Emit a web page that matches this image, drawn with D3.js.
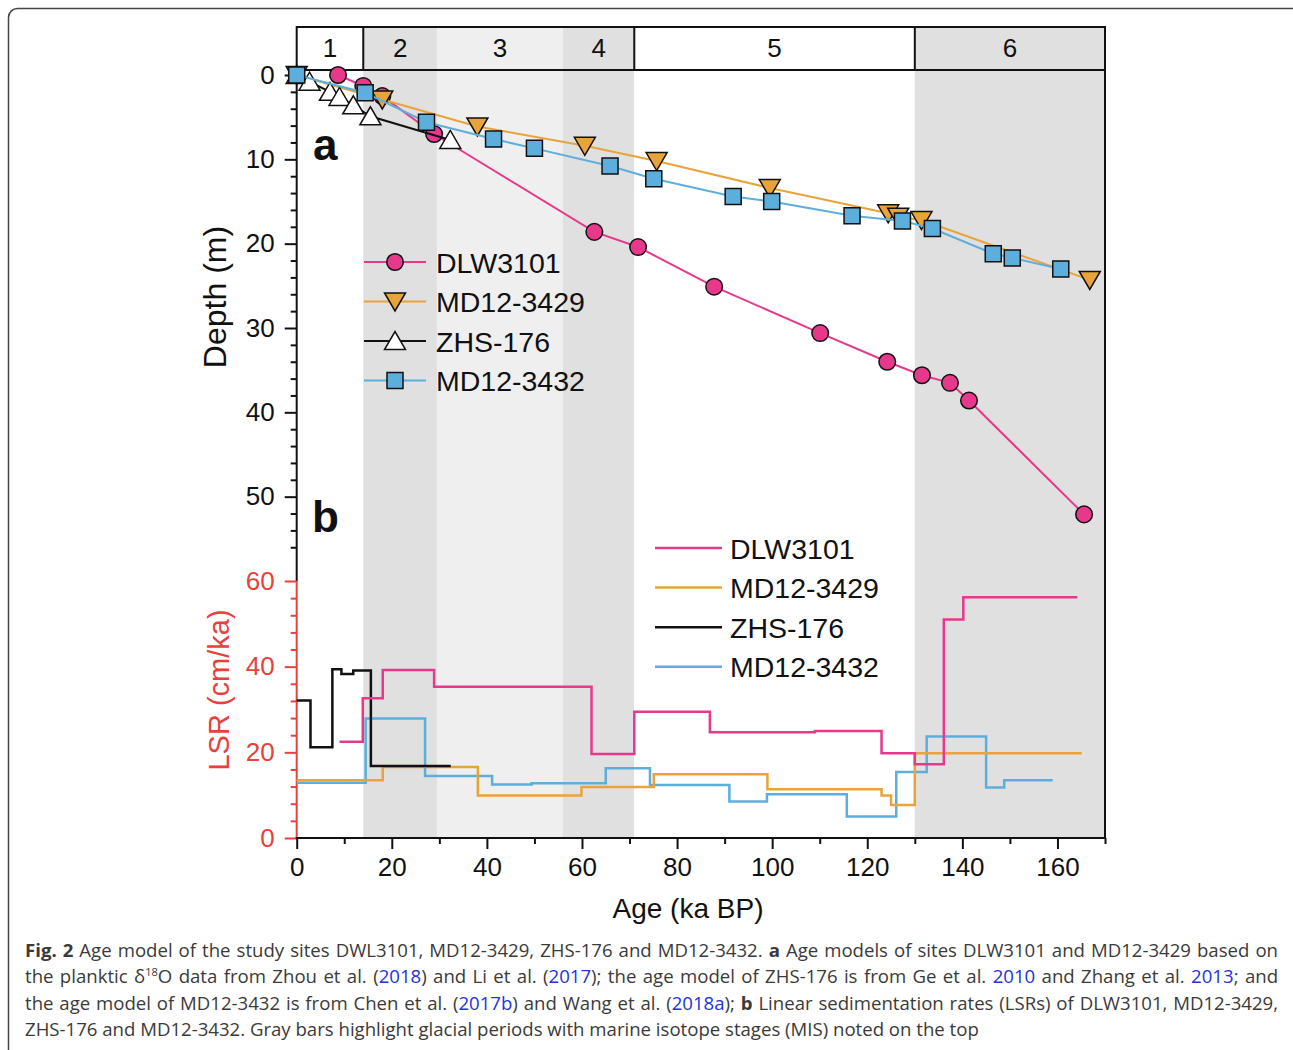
<!DOCTYPE html>
<html>
<head>
<meta charset="utf-8">
<script src="https://cdn.jsdelivr.net/npm/d3@7"></script>
<style>
  body { margin: 0; background: #fff; }
  #chart { position: absolute; left: 0; top: 0; }
  .cap { position: absolute; left: 25px; width: 1253px; font-family: 'Open Sans', sans-serif; font-size: 18.6px;
         line-height: 26px; color: #3a3a3a; white-space: nowrap; }
  .cap.j { text-align: justify; text-align-last: justify; white-space: normal; }
  .cap a { color: #2233dd; text-decoration: none; }
</style>
</head>
<body>
<svg id="chart" width="1293" height="1050"></svg>
<script>
// MIS stages (ka) shown on top
const misBounds = [0, 14, 29.5, 56, 71, 130, 170];
const misLabels = ['1', '2', '3', '4', '5', '6'];

// panel a: age models (age ka, depth m)
const dlwAge = [8.7, 14.0, 18.0, 28.9, 62.6, 71.8, 87.8, 110.1, 124.2, 131.5, 137.4, 141.4, 165.6];
const dlwDepth = [0.0, 1.3, 2.5, 7.0, 18.6, 20.4, 25.1, 30.6, 34.0, 35.6, 36.5, 38.6, 52.1];
const md29Age = [0, 18.0, 38.0, 60.6, 75.7, 99.5, 124.4, 126.5, 131.4, 166.8];
const md29Depth = [0, 2.9, 6.1, 8.4, 10.2, 13.4, 16.4, 16.8, 17.2, 24.3];
const zhsAge = [0, 2.7, 7.0, 9.0, 11.9, 15.5, 32.3];
const zhsDepth = [0, 0.8, 2.0, 2.6, 3.6, 4.9, 7.7];
const md32Age = [0, 14.4, 27.3, 41.4, 50.0, 65.9, 75.1, 91.8, 99.9, 116.8, 127.4, 133.7, 146.5, 150.5, 160.7];
const md32Depth = [0, 2.1, 5.6, 7.6, 8.7, 10.8, 12.3, 14.4, 15.0, 16.7, 17.3, 18.2, 21.2, 21.7, 23.0];

// panel b: linear sedimentation rates (step boundaries ka, LSR cm/ka)
const dlwStepAge = [9.0, 13.9, 18.1, 28.9, 62.0, 71.0, 86.9, 109.0, 123.0, 130.0, 136.1, 140.2, 164.2];
const dlwLsr = [22.5, 32.6, 39.2, 35.3, 19.6, 29.5, 24.7, 25.0, 19.8, 17.2, 51.0, 56.2];
const md29StepAge = [0, 18.1, 38.1, 59.9, 75.1, 99.0, 123.0, 125.0, 130.0, 165.1];
const md29Lsr = [13.5, 16.6, 9.9, 11.9, 14.9, 11.4, 9.9, 7.7, 19.8];
const zhsStepAge = [0, 2.9, 7.5, 9.4, 11.9, 15.6, 32.4];
const zhsLsr = [32.1, 21.2, 39.4, 38.3, 39.1, 16.8];
const md32StepAge = [0, 14.5, 27.0, 41.1, 49.4, 65.0, 74.3, 91.0, 98.9, 115.7, 126.1, 132.5, 145.0, 148.8, 159.0];
const md32Lsr = [12.9, 27.9, 14.5, 12.5, 12.8, 16.3, 12.4, 8.5, 10.2, 5.0, 15.4, 23.7, 11.8, 13.5];

const siteNames = ['DLW3101', 'MD12-3429', 'ZHS-176', 'MD12-3432'];

const pink = '#e8388c', orange = '#e9a33b', blue = '#5cafdc', red = '#e8413c';
const font = "'Liberation Sans', Arial, sans-serif";

const svg = d3.select('#chart');

// outer frame
svg.append('rect').attr('x', 8.5).attr('y', 8.5).attr('width', 1300).attr('height', 1100)
  .attr('rx', 9).attr('fill', 'none').attr('stroke', '#444').attr('stroke-width', 1.5);

const x = d3.scaleLinear().domain([0, 170]).range([296.7, 1105]);
const yDepth = d3.scaleLinear().domain([0, 60]).range([75, 581]);
const yLsr = d3.scaleLinear().domain([0, 60]).range([838, 581]);
const plotTop = 70, plotBottom = 838, headTop = 27;

//shading of glacial (dark) and MIS 3 (light)
const shade = { '2': '#e0e0e0', '3': '#efefef', '4': '#e0e0e0', '6': '#e0e0e0' };

misLabels.forEach((lab, i) => {
  const fill = shade[lab] || '#fff';
  svg.append('rect').attr('x', x(misBounds[i])).attr('y', headTop)
    .attr('width', x(misBounds[i + 1]) - x(misBounds[i])).attr('height', plotBottom - headTop)
    .attr('fill', fill);
  svg.append('text').attr('x', (x(misBounds[i]) + x(misBounds[i + 1])) / 2).attr('y', 57)
    .attr('text-anchor', 'middle').style('font-family', font).style('font-size', '26px')
    .attr('fill', '#111').text(lab);
});

// header box + dividers
svg.append('rect').attr('x', x(0)).attr('y', headTop).attr('width', x(170) - x(0)).attr('height', plotTop - headTop)
  .attr('fill', 'none').attr('stroke', '#111').attr('stroke-width', 2);
[14, 71, 130].forEach((b) => {
  svg.append('line').attr('x1', x(b)).attr('x2', x(b)).attr('y1', headTop).attr('y2', plotTop)
    .attr('stroke', '#111').attr('stroke-width', 2);
});
// right frame line
svg.append('line').attr('x1', x(170)).attr('x2', x(170)).attr('y1', plotTop).attr('y2', plotBottom)
  .attr('stroke', '#111').attr('stroke-width', 2);

// ---------- axes ----------
function styleAxis(g, color) {
  g.select('.domain').remove();
  g.selectAll('line').attr('stroke', color).attr('stroke-width', 2);
  g.selectAll('text').attr('fill', color).style('font-family', font).style('font-size', '26px');
}

// depth axis
svg.append('g').attr('transform', `translate(${x(0)},0)`)
  .call(d3.axisLeft(yDepth).tickValues(d3.range(0, 57, 2).filter((d) => d % 10 !== 0)).tickSize(6).tickFormat(''))
  .call((g) => styleAxis(g, '#111'));
svg.append('g').attr('transform', `translate(${x(0)},0)`)
  .call(d3.axisLeft(yDepth).tickValues([0, 10, 20, 30, 40, 50]).tickSize(12).tickPadding(10))
  .call((g) => styleAxis(g, '#111'));
svg.append('line').attr('x1', x(0)).attr('x2', x(0)).attr('y1', plotTop).attr('y2', yLsr(60))
  .attr('stroke', '#111').attr('stroke-width', 2);

// LSR axis
svg.append('g').attr('transform', `translate(${x(0)},0)`)
  .call(d3.axisLeft(yLsr).tickValues(d3.range(0, 61, 4).filter((d) => d % 20 !== 0)).tickSize(6).tickFormat(''))
  .call((g) => styleAxis(g, red));
svg.append('g').attr('transform', `translate(${x(0)},0)`)
  .call(d3.axisLeft(yLsr).tickValues([0, 20, 40, 60]).tickSize(12).tickPadding(10))
  .call((g) => styleAxis(g, red));
svg.append('line').attr('x1', x(0)).attr('x2', x(0)).attr('y1', yLsr(60)).attr('y2', plotBottom)
  .attr('stroke', red).attr('stroke-width', 2);

// age axis
svg.append('g').attr('transform', `translate(0,${plotBottom})`)
  .call(d3.axisBottom(x).tickValues(d3.range(10, 171, 20)).tickSize(6).tickFormat(''))
  .call((g) => styleAxis(g, '#111'));
svg.append('g').attr('transform', `translate(0,${plotBottom})`)
  .call(d3.axisBottom(x).tickValues(d3.range(0, 161, 20)).tickSize(11).tickPadding(9))
  .call((g) => styleAxis(g, '#111'));
svg.append('line').attr('x1', x(0) - 1).attr('x2', x(170) + 1).attr('y1', plotBottom).attr('y2', plotBottom)
  .attr('stroke', '#111').attr('stroke-width', 2);

// axis titles
svg.append('text').attr('x', 688).attr('y', 918).attr('text-anchor', 'middle')
  .style('font-family', font).style('font-size', '28px').attr('fill', '#111').text('Age (ka BP)');
svg.append('text').attr('transform', 'translate(226,297) rotate(-90)').attr('text-anchor', 'middle')
  .style('font-family', font).style('font-size', '32px').attr('fill', '#111').text('Depth (m)');
svg.append('text').attr('transform', 'translate(229,690) rotate(-90)').attr('text-anchor', 'middle')
  .style('font-family', font).style('font-size', '29px').attr('fill', red).text('LSR (cm/ka)');

// panel letters
svg.append('text').attr('x', 313).attr('y', 160).style('font-family', font).style('font-size', '44px')
  .style('font-weight', 'bold').attr('fill', '#111').text('a');
svg.append('text').attr('x', 312).attr('y', 532).style('font-family', font).style('font-size', '44px')
  .style('font-weight', 'bold').attr('fill', '#111').text('b');

// ---------- panel b: step lines ----------
const stepLine = d3.line().x((d) => x(d[0])).y((d) => yLsr(d[1])).curve(d3.curveStepAfter);
function steps(ages, vals) {
  const pts = vals.map((v, i) => [ ages[i], v ]);
  pts.push([ ages[ages.length - 1], vals[vals.length - 1] ]);
  return pts;
}
[
  [ md32StepAge, md32Lsr, blue ],
  [ md29StepAge, md29Lsr, orange ],
  [ zhsStepAge, zhsLsr, '#111' ],
  [ dlwStepAge, dlwLsr, pink ]
].forEach(([ a, v, c ]) => {
  svg.append('path').attr('d', stepLine(steps(a, v))).attr('fill', 'none')
    .attr('stroke', c).attr('stroke-width', 2.5);
});

// ---------- panel a: age models ----------
const depthLine = d3.line().x((d) => x(d[0])).y((d) => yDepth(d[1]));
const markerPath = {
  circle: 'M8.3,0A8.3,8.3 0 1,1 -8.3,0A8.3,8.3 0 1,1 8.3,0Z',
  down: 'M-10.5,-8.5L10.5,-8.5L0,9.5Z',
  up: 'M-10.5,8.5L10.5,8.5L0,-9.5Z',
  square: 'M-8,-8H8V8H-8Z'
};
const series = [
  { age: dlwAge, depth: dlwDepth, color: pink, fill: pink, mk: 'circle' },
  { age: md29Age, depth: md29Depth, color: orange, fill: orange, mk: 'down' },
  { age: zhsAge, depth: zhsDepth, color: '#111', fill: '#fff', mk: 'up' },
  { age: md32Age, depth: md32Depth, color: blue, fill: blue, mk: 'square' }
];
series.forEach((s) => {
  const pts = s.age.map((a, i) => [ a, s.depth[i] ]);
  svg.append('path').attr('d', depthLine(pts)).attr('fill', 'none').attr('stroke', s.color).attr('stroke-width', 2);
  svg.append('g').selectAll('path').data(pts).enter().append('path')
    .attr('transform', (d) => `translate(${x(d[0])},${yDepth(d[1])})`)
    .attr('d', markerPath[s.mk]).attr('fill', s.fill).attr('stroke', '#111').attr('stroke-width', 1.5);
});

// legend a
series.forEach((s, i) => {
  const ly = 262 + i * 39.5;
  svg.append('line').attr('x1', 364).attr('x2', 426).attr('y1', ly).attr('y2', ly).attr('stroke', s.color).attr('stroke-width', 2);
  svg.append('path').attr('transform', `translate(395,${ly})`).attr('d', markerPath[s.mk])
    .attr('fill', s.fill).attr('stroke', '#111').attr('stroke-width', 1.5);
  svg.append('text').attr('x', 436).attr('y', ly + 10.5).style('font-family', font).style('font-size', '28.5px')
    .attr('fill', '#111').text(siteNames[i]);
});

// legend b
[ pink, orange, '#111', blue ].forEach((c, i) => {
  const ly = 548 + i * 39.6;
  svg.append('line').attr('x1', 655).attr('x2', 722).attr('y1', ly).attr('y2', ly).attr('stroke', c).attr('stroke-width', 2.5);
  svg.append('text').attr('x', 730).attr('y', ly + 10.5).style('font-family', font).style('font-size', '28.5px')
    .attr('fill', '#111').text(siteNames[i]);
});

// ---------- caption ----------
const capLines = [
  '<b>Fig. 2</b> Age model of the study sites DWL3101, MD12-3429, ZHS-176 and MD12-3432. <b>a</b> Age models of sites DLW3101 and MD12-3429 based on',
  'the planktic δ<sup style="font-size:11px;line-height:0">18</sup>O data from Zhou et al. (<a>2018</a>) and Li et al. (<a>2017</a>); the age model of ZHS-176 is from Ge et al. <a>2010</a> and Zhang et al. <a>2013</a>; and',
  'the age model of MD12-3432 is from Chen et al. (<a>2017b</a>) and Wang et al. (<a>2018a</a>); <b>b</b> Linear sedimentation rates (LSRs) of DLW3101, MD12-3429,',
  'ZHS-176 and MD12-3432. Gray bars highlight glacial periods with marine isotope stages (MIS) noted on the top'
];
d3.select('body').selectAll('div.cap').data(capLines).enter().append('div')
  .attr('class', (d, i) => (i < 3 ? 'cap j' : 'cap'))
  .style('top', (d, i) => `${937 + i * 26.4}px`)
  .html((d) => d);
</script>
</body>
</html>
